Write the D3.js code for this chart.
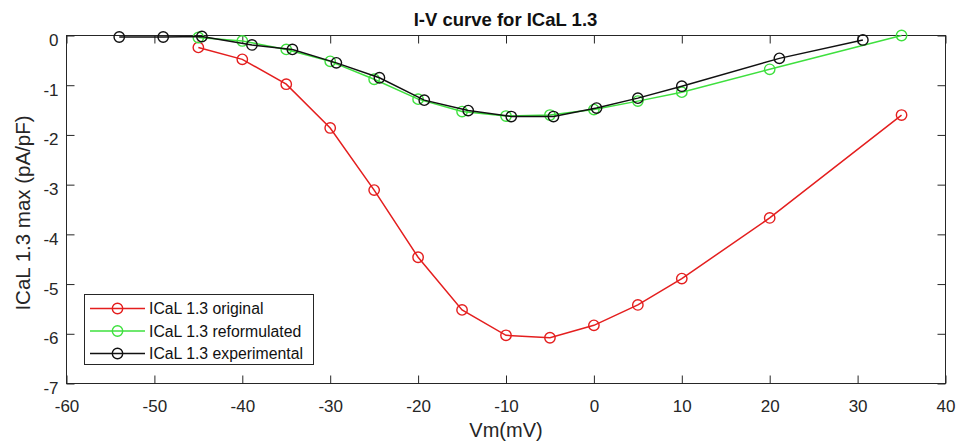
<!DOCTYPE html>
<html>
<head>
<meta charset="utf-8">
<script src="https://cdn.jsdelivr.net/npm/d3@7/dist/d3.min.js"></script>
<style>
  html, body { margin: 0; padding: 0; background: #fff; }
  svg text { font-family: "Liberation Sans", Arial, Helvetica, sans-serif; }
</style>
</head>
<body>
<svg id="chart" width="956" height="444"></svg>
<script>
// Membrane voltage (mV) for each series
const vmOriginal = [-45, -40, -35, -30, -25, -20, -15, -10, -5, 0, 5, 10, 20, 35];
const iOriginal  = [-0.24, -0.48, -0.98, -1.86, -3.11, -4.46, -5.52, -6.03, -6.08, -5.83, -5.42, -4.89, -3.67, -1.60];

const vmReform = [-45, -40, -35, -30, -25, -20, -15, -10, -5, 0, 5, 10, 20, 35];
const iReform  = [-0.04, -0.11, -0.28, -0.52, -0.88, -1.28, -1.53, -1.62, -1.60, -1.49, -1.32, -1.14, -0.68, 0.0];

const vmExp = [-54, -49, -44.6, -38.9, -34.3, -29.3, -24.4, -19.3, -14.3, -9.4, -4.6, 0.3, 5.0, 10.0, 21.1, 30.6];
const iExp  = [-0.03, -0.03, -0.02, -0.19, -0.28, -0.55, -0.85, -1.30, -1.51, -1.63, -1.63, -1.46, -1.26, -1.02, -0.46, -0.09];

const seriesNames = ["ICaL 1.3 original", "ICaL 1.3 reformulated", "ICaL 1.3 experimental"];
const seriesColors = ["#e41e1e", "#3ee03e", "#111111"];

const xTicks = [-60, -50, -40, -30, -20, -10, 0, 10, 20, 30, 40];
const yTicks = [0, -1, -2, -3, -4, -5, -6, -7];

const svg = d3.select("#chart");
const plotL = 66.5, plotR = 945.5, plotT = 35.5, plotB = 383.5;

const x = d3.scaleLinear().domain([-60, 40]).range([plotL, plotR]);
const y = d3.scaleLinear().domain([-7, 0]).range([plotB, plotT]);

const axisColor = "#262626";
const tickLen = 8;
const tickFont = 17;
const fmt = d => String(d);

// frame
svg.append("rect")
  .attr("x", plotL).attr("y", plotT)
  .attr("width", plotR - plotL).attr("height", plotB - plotT)
  .attr("fill", "#fff").attr("stroke", axisColor).attr("stroke-width", 1);

// inward ticks on all four sides
const gx = svg.append("g").attr("transform", `translate(0,${plotB})`)
  .call(d3.axisBottom(x).tickValues(xTicks).tickFormat(fmt).tickSizeInner(-tickLen).tickSizeOuter(0));
const gxTop = svg.append("g").attr("transform", `translate(0,${plotT})`)
  .call(d3.axisTop(x).tickValues(xTicks).tickSizeInner(-tickLen).tickSizeOuter(0).tickFormat(""));
const gy = svg.append("g").attr("transform", `translate(${plotL},0)`)
  .call(d3.axisLeft(y).tickValues(yTicks).tickFormat(fmt).tickSizeInner(-tickLen).tickSizeOuter(0).tickPadding(8));
const gyRight = svg.append("g").attr("transform", `translate(${plotR},0)`)
  .call(d3.axisRight(y).tickValues(yTicks).tickSizeInner(-tickLen).tickSizeOuter(0).tickFormat(""));

[gx, gxTop, gy, gyRight].forEach(g => {
  g.select(".domain").remove();
  g.selectAll(".tick line").attr("stroke", axisColor);
  g.selectAll(".tick text").attr("fill", axisColor).attr("font-size", tickFont)
    .attr("font-family", "'Liberation Sans', Arial, sans-serif");
});
gx.selectAll(".tick text").attr("y", 28).attr("dy", 0);
gy.selectAll(".tick text").attr("y", 10).attr("dy", 0);

// title and axis labels
svg.append("text").attr("x", 505.5).attr("y", 26)
  .attr("text-anchor", "middle").attr("font-size", 18.5).attr("font-weight", "bold")
  .attr("fill", "#111").text("I-V curve for ICaL 1.3");
svg.append("text").attr("x", 506).attr("y", 437)
  .attr("text-anchor", "middle").attr("font-size", 20).attr("fill", axisColor)
  .text("Vm(mV)");
svg.append("text")
  .attr("transform", "translate(30,213) rotate(-90)")
  .attr("text-anchor", "middle").attr("font-size", 20.5).attr("fill", axisColor)
  .text("ICaL 1.3 max (pA/pF)");

// series: original, reformulated, experimental (experimental drawn on top)
const series = [
  { v: vmOriginal, i: iOriginal },
  { v: vmReform,   i: iReform },
  { v: vmExp,      i: iExp }
];

const line = d3.line().x(d => x(d[0])).y(d => y(d[1]));
series.forEach((s, k) => {
  const pts = s.v.map((v, j) => [v, s.i[j]]);
  const g = svg.append("g");
  g.append("path").datum(pts).attr("d", line)
    .attr("fill", "none").attr("stroke", seriesColors[k]).attr("stroke-width", 1.5);
  g.selectAll("circle").data(pts).join("circle")
    .attr("cx", d => x(d[0])).attr("cy", d => y(d[1])).attr("r", 5.2)
    .attr("fill", "none").attr("stroke", seriesColors[k]).attr("stroke-width", 1.4);
});

// legend
const lg = svg.append("g");
lg.append("rect").attr("x", 84.5).attr("y", 294.5).attr("width", 229).attr("height", 70)
  .attr("fill", "#fff").attr("stroke", axisColor).attr("stroke-width", 1);
seriesNames.forEach((name, k) => {
  const yy = 308.5 + k * 22.5;
  lg.append("line").attr("x1", 90).attr("x2", 145).attr("y1", yy).attr("y2", yy)
    .attr("stroke", seriesColors[k]).attr("stroke-width", 1.5);
  lg.append("circle").attr("cx", 117.5).attr("cy", yy).attr("r", 5.2)
    .attr("fill", "none").attr("stroke", seriesColors[k]).attr("stroke-width", 1.4);
  lg.append("text").attr("x", 149).attr("y", yy + 5.8)
    .attr("font-size", 15.8).attr("fill", "#111").text(name);
});
</script>
</body>
</html>
